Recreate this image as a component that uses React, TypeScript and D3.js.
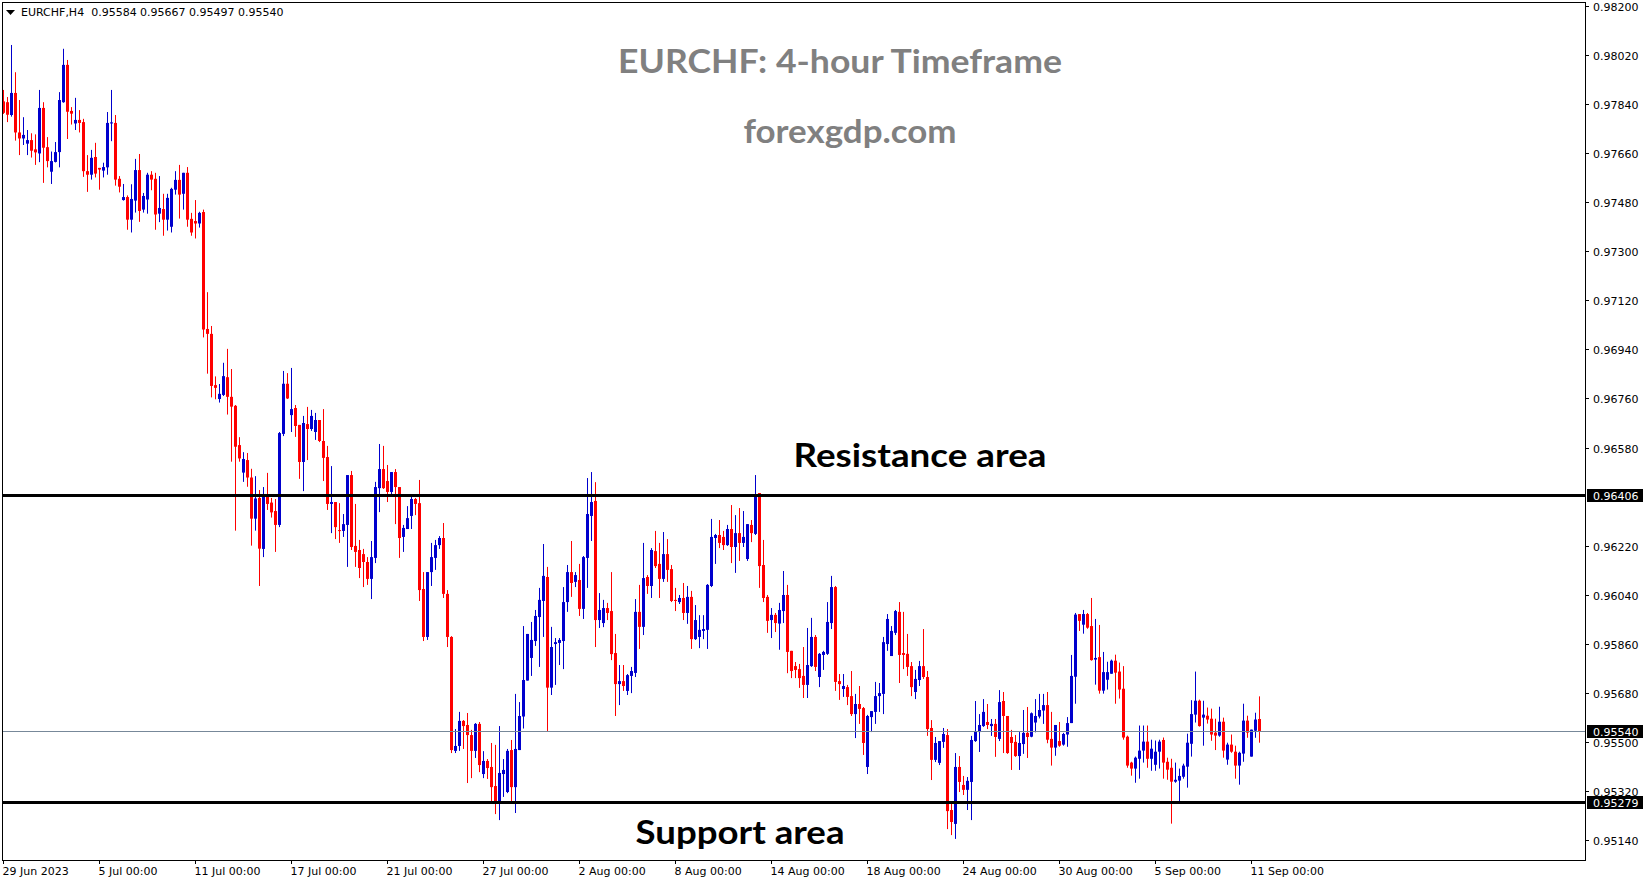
import React from 'react';
import * as d3 from 'd3';

// EURCHF H4 candles, values in points (1 point = 0.00001)
const openPts = [
  97850, 97847, 97800, 97881, 97736, 97714, 97695, 97708, 97674, 97659,
  97826, 97682, 97592, 97628, 97664, 97847, 97984, 97815, 97769, 97782,
  97774, 97594, 97581, 97646, 97606, 97596, 97608, 97769, 97771, 97566,
  97488, 97499, 97416, 97486, 97598, 97453, 97490, 97581, 97566, 97438,
  97455, 97416, 97390, 97526, 97562, 97511, 97588, 97419, 97411, 97402,
  97444, 97015, 96997, 96809, 96758, 96773, 96838, 96766, 96733, 96589,
  96488, 96534, 96470, 96319, 96395, 96208, 96400, 96378, 96347, 96296,
  96630, 96814, 96699, 96725, 96663, 96527, 96666, 96648, 96637, 96681,
  96604, 96545, 96373, 96380, 96277, 96274, 96296, 96479, 96219, 96204,
  96189, 96160, 96098, 96175, 96431, 96501, 96457, 96417, 96490, 96435,
  96252, 96281, 96329, 96391, 96376, 96061, 95885, 96123, 96175, 96222,
  96248, 96043, 95885, 95467, 95485, 95577, 95562, 95525, 95467, 95566,
  95382, 95430, 95408, 95338, 95276, 95382, 95316, 95470, 95334, 95470,
  95593, 95725, 95808, 95870, 95958, 96017, 96105, 95699, 95859, 95863,
  95870, 96013, 96123, 96087, 96094, 95988, 96175, 96329, 96384, 95947,
  95936, 95991, 95980, 95826, 95712, 95723, 95687, 95742, 95753, 95977,
  95922, 96105, 96072, 96200, 96153, 96098, 96189, 96134, 96021, 96013,
  96028, 95973, 96032, 95877, 95885, 95907, 95911, 96072, 96248, 96259,
  96252, 96222, 96281, 96215, 96266, 96230, 96171, 96296, 96263, 96413,
  96149, 96032, 95947, 95966, 95934, 95980, 96039, 95834, 95778, 95767,
  95742, 95709, 95778, 95885, 95738, 95819, 95823, 95936, 96068, 95723,
  95694, 95701, 95668, 95602, 95639, 95624, 95408, 95591, 95610, 95668,
  95676, 95859, 95815, 95900, 95977, 95826, 95823, 95778, 95683, 95727,
  95778, 95738, 95551, 95434, 95423, 95500, 95525, 95250, 95199, 95408,
  95342, 95324, 95353, 95503, 95536, 95558, 95573, 95558, 95566, 95511,
  95650, 95595, 95518, 95500, 95448, 95492, 95533, 95519, 95571, 95593,
  95615, 95635, 95511, 95479, 95503, 95490, 95527, 95569, 95739, 95969,
  95930, 95969, 95925, 95802, 95811, 95688, 95728, 95750, 95798, 95758,
  95695, 95519, 95424, 95402, 95438, 95468, 95501, 95438, 95416, 95464,
  95507, 95427, 95405, 95354, 95358, 95372, 95409, 95493, 95600, 95651,
  95589, 95596, 95585, 95534, 95523, 95574, 95435, 95490, 95464, 95413,
  95457, 95578, 95446, 95541, 95584,
];

const highPts = [
  97892, 97866, 98057, 97957, 97855, 97792, 97745, 97733, 97729, 97892,
  97847, 97719, 97666, 97701, 97884, 98043, 98002, 97829, 97863, 97818,
  97786, 97653, 97672, 97698, 97606, 97625, 97811, 97892, 97800, 97576,
  97547, 97505, 97546, 97639, 97657, 97514, 97588, 97594, 97588, 97576,
  97511, 97511, 97533, 97594, 97617, 97588, 97609, 97441, 97488, 97445,
  97453, 97150, 97026, 96841, 96813, 96891, 96942, 96868, 96736, 96618,
  96563, 96560, 96502, 96475, 96424, 96435, 96487, 96395, 96391, 96637,
  96861, 96853, 96872, 96736, 96663, 96696, 96729, 96718, 96707, 96681,
  96721, 96586, 96512, 96380, 96376, 96336, 96479, 96494, 96373, 96241,
  96208, 96178, 96237, 96454, 96593, 96586, 96516, 96490, 96501, 96435,
  96296, 96365, 96402, 96395, 96461, 96123, 96123, 96230, 96241, 96255,
  96303, 96057, 95888, 95547, 95610, 95580, 95606, 95544, 95569, 95573,
  95466, 95437, 95496, 95489, 95558, 95437, 95474, 95507, 95676, 95646,
  95925, 95896, 95940, 95984, 96065, 96226, 96142, 95922, 95881, 95881,
  96068, 96149, 96237, 96123, 96153, 96182, 96468, 96490, 96453, 96046,
  96021, 96010, 96123, 95896, 95782, 95782, 95749, 95775, 96024, 96076,
  96230, 96112, 96211, 96274, 96230, 96270, 96244, 96149, 96065, 96039,
  96083, 96072, 96054, 96002, 95965, 95965, 96079, 96318, 96263, 96314,
  96274, 96296, 96369, 96332, 96358, 96347, 96299, 96314, 96479, 96413,
  96241, 96039, 95991, 95973, 96010, 96127, 96076, 95834, 95793, 95786,
  95848, 95918, 95955, 95892, 95826, 95834, 96013, 96109, 96072, 95749,
  95749, 95709, 95760, 95676, 95705, 95628, 95599, 95613, 95720, 95716,
  95885, 95969, 95925, 95984, 96013, 95977, 95896, 95793, 95764, 95797,
  95914, 95760, 95580, 95518, 95503, 95551, 95547, 95272, 95459, 95448,
  95375, 95371, 95522, 95650, 95602, 95657, 95639, 95584, 95584, 95690,
  95683, 95595, 95544, 95525, 95536, 95617, 95628, 95608, 95657, 95676,
  95676, 95683, 95610, 95562, 95573, 95533, 95591, 95819, 95973, 95969,
  95984, 95973, 96028, 95951, 95929, 95830, 95794, 95802, 95820, 95791,
  95778, 95523, 95427, 95446, 95560, 95560, 95560, 95508, 95505, 95508,
  95516, 95442, 95438, 95424, 95402, 95420, 95530, 95653, 95758, 95655,
  95651, 95626, 95622, 95585, 95629, 95589, 95497, 95527, 95486, 95464,
  95640, 95596, 95545, 95607, 95667,
];

const lowPts = [
  97804, 97774, 97794, 97706, 97653, 97690, 97653, 97644, 97617, 97627,
  97551, 97608, 97547, 97626, 97608, 97845, 97712, 97765, 97745, 97736,
  97573, 97518, 97563, 97571, 97526, 97571, 97581, 97704, 97541, 97516,
  97486, 97379, 97369, 97442, 97408, 97442, 97438, 97524, 97379, 97407,
  97357, 97376, 97369, 97508, 97420, 97453, 97390, 97357, 97347, 97387,
  96984, 96851, 96764, 96757, 96745, 96769, 96701, 96528, 96275, 96528,
  96454, 96436, 96220, 96275, 96072, 96178, 96351, 96323, 96197, 96288,
  96622, 96758, 96637, 96619, 96465, 96420, 96534, 96641, 96608, 96600,
  96457, 96351, 96266, 96244, 96230, 96252, 96142, 96204, 96142, 96101,
  96068, 96076, 96024, 96156, 96343, 96428, 96380, 96409, 96299, 96175,
  96197, 96281, 96281, 96332, 96017, 95870, 95874, 96072, 96131, 96208,
  96028, 95848, 95459, 95459, 95467, 95474, 95349, 95367, 95441, 95389,
  95367, 95364, 95279, 95235, 95213, 95298, 95312, 95276, 95239, 95470,
  95549, 95725, 95742, 95852, 95775, 95885, 95540, 95672, 95709, 95782,
  95767, 95977, 96032, 96068, 95962, 95951, 96065, 96237, 95848, 95918,
  95921, 95947, 95800, 95595, 95635, 95687, 95672, 95679, 95738, 95841,
  95892, 96043, 96028, 96138, 96028, 96087, 96087, 96013, 95980, 96006,
  95947, 95933, 95841, 95874, 95844, 95877, 95841, 96068, 96153, 96211,
  96204, 96219, 96156, 96120, 96164, 96215, 96164, 96233, 96259, 96065,
  96013, 95900, 95881, 95903, 95838, 95936, 95752, 95734, 95734, 95698,
  95661, 95661, 95775, 95760, 95701, 95764, 95819, 95914, 95687, 95654,
  95665, 95635, 95595, 95514, 95566, 95452, 95382, 95536, 95566, 95610,
  95602, 95834, 95815, 95892, 95716, 95767, 95742, 95668, 95657, 95705,
  95731, 95522, 95360, 95426, 95415, 95478, 95180, 95158, 95144, 95316,
  95305, 95250, 95213, 95500, 95463, 95555, 95547, 95522, 95445, 95503,
  95459, 95456, 95397, 95445, 95397, 95456, 95441, 95517, 95535, 95586,
  95566, 95495, 95413, 95449, 95482, 95486, 95482, 95569, 95640, 95907,
  95897, 95915, 95798, 95710, 95677, 95677, 95692, 95750, 95640, 95659,
  95508, 95405, 95376, 95350, 95365, 95424, 95405, 95394, 95394, 95402,
  95365, 95361, 95200, 95350, 95281, 95365, 95332, 95446, 95571, 95556,
  95486, 95567, 95504, 95470, 95519, 95442, 95416, 95460, 95365, 95343,
  95427, 95515, 95446, 95515, 95497,
];

const closePts = [
  97808, 97801, 97881, 97736, 97714, 97727, 97708, 97669, 97663, 97826,
  97680, 97631, 97631, 97664, 97855, 97984, 97812, 97805, 97782, 97771,
  97594, 97581, 97643, 97585, 97600, 97609, 97771, 97773, 97563, 97537,
  97499, 97416, 97492, 97598, 97448, 97503, 97581, 97563, 97435, 97459,
  97416, 97496, 97529, 97562, 97508, 97588, 97416, 97369, 97402, 97441,
  97013, 96997, 96806, 96799, 96777, 96842, 96766, 96730, 96583, 96540,
  96538, 96470, 96319, 96393, 96209, 96400, 96373, 96342, 96296, 96633,
  96814, 96760, 96721, 96659, 96527, 96670, 96648, 96696, 96681, 96604,
  96542, 96373, 96380, 96288, 96274, 96299, 96479, 96215, 96197, 96138,
  96160, 96098, 96178, 96435, 96501, 96431, 96417, 96490, 96435, 96248,
  96285, 96321, 96391, 96373, 96057, 95885, 96123, 96178, 96222, 96248,
  96043, 95885, 95470, 95485, 95577, 95558, 95525, 95467, 95566, 95415,
  95430, 95404, 95334, 95283, 95386, 95397, 95467, 95334, 95474, 95595,
  95727, 95896, 95874, 95962, 96021, 96109, 95699, 95848, 95866, 95874,
  96013, 96123, 96083, 96112, 95988, 96178, 96336, 96380, 95947, 95984,
  95991, 95973, 95822, 95712, 95723, 95705, 95745, 95760, 95977, 95922,
  96101, 96072, 96204, 96145, 96098, 96189, 96131, 96017, 96017, 96028,
  95973, 96032, 95877, 95947, 95911, 95914, 96076, 96252, 96259, 96230,
  96222, 96281, 96215, 96266, 96230, 96252, 96299, 96266, 96402, 96145,
  96028, 95944, 95966, 95936, 95984, 96039, 95830, 95760, 95764, 95734,
  95709, 95782, 95885, 95775, 95823, 95830, 95940, 96068, 95720, 95712,
  95705, 95665, 95602, 95639, 95621, 95496, 95595, 95613, 95668, 95679,
  95866, 95951, 95907, 95980, 95819, 95819, 95775, 95701, 95731, 95778,
  95738, 95547, 95434, 95496, 95503, 95529, 95246, 95206, 95408, 95353,
  95324, 95357, 95507, 95540, 95562, 95610, 95562, 95566, 95518, 95646,
  95595, 95459, 95496, 95448, 95496, 95533, 95518, 95605, 95595, 95617,
  95635, 95508, 95479, 95562, 95486, 95529, 95569, 95742, 95967, 95944,
  95969, 95919, 95800, 95808, 95688, 95756, 95756, 95798, 95754, 95692,
  95516, 95413, 95402, 95442, 95468, 95501, 95438, 95475, 95464, 95501,
  95424, 95398, 95354, 95361, 95375, 95413, 95497, 95602, 95651, 95558,
  95600, 95582, 95527, 95523, 95574, 95468, 95490, 95464, 95413, 95460,
  95578, 95534, 95545, 95582, 95540,
];

// right price scale
const priceTicks = [
  0.982, 0.9802, 0.9784, 0.9766, 0.9748, 0.973, 0.9712, 0.9694, 0.9676,
  0.9658, 0.964, 0.9622, 0.9604, 0.9586, 0.9568, 0.955, 0.9532, 0.9514,
];
// the 0.96400 label sits under the line marker
const hiddenPriceTicks = [0.964];

// time scale: bar index of each label
const dateTickBars = [0, 24, 48, 72, 96, 120, 144, 168, 192, 216, 240, 264, 288, 312];
const dateTickLabels = [
  '29 Jun 2023', '5 Jul 00:00', '11 Jul 00:00', '17 Jul 00:00', '21 Jul 00:00',
  '27 Jul 00:00', '2 Aug 00:00', '8 Aug 00:00', '14 Aug 00:00', '18 Aug 00:00',
  '24 Aug 00:00', '30 Aug 00:00', '5 Sep 00:00', '11 Sep 00:00',
];

const resistanceLevel = 0.96406;
const supportLevel = 0.95279;
const symbolName = 'EURCHF';
const periodName = 'H4';

const W = 1649;
const H = 884;
const frame = { left: 2, top: 2, right: 1585, bottom: 860 };
const BULL = '#0000cd';
const BEAR = '#ff0000';
const AXIS_FONT = '"DejaVu Sans", Verdana, sans-serif';
const BIG_FONT = 'Lato, "Open Sans", sans-serif';

const fmt = d3.format('.5f');

export default function App() {
  const n = openPts.length;
  const bars = d3.range(n).map(i => ({
    i,
    o: openPts[i] / 1e5,
    h: highPts[i] / 1e5,
    l: lowPts[i] / 1e5,
    c: closePts[i] / 1e5,
  }));
  const last = bars[n - 1];

  // 4px per bar, wick in the middle pixel column
  const x = d3.scaleLinear().domain([0, n - 1]).range([3.5, 3.5 + 4 * (n - 1)]);
  const y = d3.scaleLinear().domain([0.9514, 0.982]).range([840, 6]);

  const header = `${symbolName},${periodName}  ${fmt(last.o)} ${fmt(last.h)} ${fmt(last.l)} ${fmt(last.c)}`;

  const markers = [resistanceLevel, last.c, supportLevel];

  return (
    <svg
      width={W}
      height={H}
      style={{ position: 'absolute', left: 0, top: 0, background: '#fff', display: 'block' }}
    >
      <rect x={0} y={0} width={W} height={H} fill="#fff" />

      {/* candles */}
      <g>
        {bars.map(b => {
          const up = b.c >= b.o;
          const col = up ? BULL : BEAR;
          const cx = x(b.i);
          const yTop = y(Math.max(b.o, b.c));
          const yBot = y(Math.min(b.o, b.c));
          return (
            <g key={b.i}>
              <line x1={cx} x2={cx} y1={y(b.h)} y2={y(b.l)} stroke={col} strokeWidth={1} />
              <rect x={cx - 1.5} y={yTop} width={3} height={Math.max(1, yBot - yTop)} fill={col} />
            </g>
          );
        })}
      </g>

      {/* last price line */}
      <line
        x1={frame.left}
        x2={frame.right}
        y1={Math.round(y(last.c)) + 0.5}
        y2={Math.round(y(last.c)) + 0.5}
        stroke="#778899"
        strokeWidth={1}
      />

      {/* support / resistance */}
      {[resistanceLevel, supportLevel].map(v => (
        <line
          key={v}
          x1={frame.left}
          x2={frame.right}
          y1={Math.round(y(v)) + 0.5}
          y2={Math.round(y(v)) + 0.5}
          stroke="#000"
          strokeWidth={3}
        />
      ))}

      {/* frame */}
      <rect
        x={frame.left + 0.5}
        y={frame.top + 0.5}
        width={frame.right - frame.left}
        height={frame.bottom - frame.top}
        fill="none"
        stroke="#000"
        strokeWidth={1}
      />

      {/* price axis */}
      <g fontFamily={AXIS_FONT} fontSize={11} fill="#000">
        {priceTicks.filter(t => !hiddenPriceTicks.includes(t)).map(t => {
          const ty = Math.round(y(t)) + 0.5;
          return (
            <g key={t}>
              <line x1={frame.right} x2={frame.right + 4} y1={ty} y2={ty} stroke="#000" />
              <text x={frame.right + 8} y={ty + 4}>{fmt(t)}</text>
            </g>
          );
        })}
      </g>

      {/* price markers */}
      <g fontFamily={AXIS_FONT} fontSize={11}>
        {markers.map(v => {
          const my = Math.round(y(v)) + 0.5;
          return (
            <g key={v}>
              <rect x={frame.right + 2} y={my - 6.5} width={56} height={13} fill="#000" />
              <text x={frame.right + 8} y={my + 4} fill="#fff">{fmt(v)}</text>
            </g>
          );
        })}
      </g>

      {/* time axis */}
      <g fontFamily={AXIS_FONT} fontSize={11} fill="#000">
        {dateTickBars.map((b, k) => {
          const tx = Math.round(x(b)) - 0.5;
          return (
            <g key={b}>
              <line x1={tx} x2={tx} y1={frame.bottom} y2={frame.bottom + 4} stroke="#000" />
              <text x={tx - 1} y={frame.bottom + 15}>{dateTickLabels[k]}</text>
            </g>
          );
        })}
      </g>

      {/* header */}
      <path d="M6,10 L15,10 L10.5,15 Z" fill="#000" />
      <text
        x={21}
        y={16}
        fontFamily={AXIS_FONT}
        fontSize={11}
        fill="#000"
        style={{ whiteSpace: 'pre' }}
      >
        {header}
      </text>

      {/* titles */}
      <g fontFamily={BIG_FONT} fontWeight={700} fontSize={33} textAnchor="middle">
        <text x={840} y={73} fill="#808080" textLength={444} lengthAdjust="spacingAndGlyphs">
          EURCHF: 4-hour Timeframe
        </text>
        <text x={850} y={143} fill="#808080" textLength={213} lengthAdjust="spacingAndGlyphs">
          forexgdp.com
        </text>
        <text x={920} y={467} fill="#000" textLength={253} lengthAdjust="spacingAndGlyphs">
          Resistance area
        </text>
        <text x={740} y={844} fill="#000" textLength={209} lengthAdjust="spacingAndGlyphs">
          Support area
        </text>
      </g>
    </svg>
  );
}
